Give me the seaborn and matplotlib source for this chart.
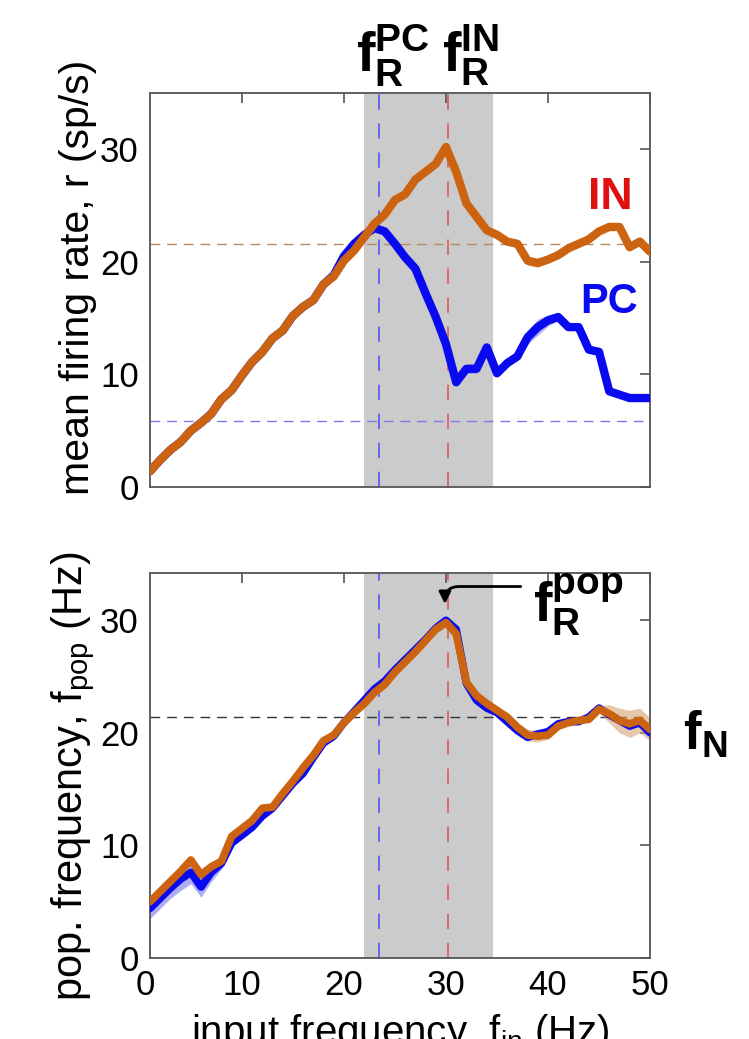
import seaborn as sns
import matplotlib.pyplot as plt
import matplotlib.transforms as mtransforms
import pandas as pd

# input frequencies (Hz)
freq = list(range(1, 51))

# mean firing rate (sp/s)
in_rate = [1.4, 2.4, 3.3, 4.0, 5.0, 5.7, 6.5, 7.8, 8.6, 9.9,
           11.1, 12.0, 13.2, 13.9, 15.2, 16.0, 16.6, 18.0, 18.7, 20.1,
           21.0, 22.2, 23.4, 24.2, 25.5, 26.0, 27.3, 28.0, 28.7, 30.2,
           28.0, 25.2, 24.0, 22.8, 22.4, 21.8, 21.6, 20.1, 19.9, 20.2,
           20.6, 21.2, 21.6, 22.0, 22.7, 23.1, 23.1, 21.3, 21.8, 20.9]
pc_rate = [1.4, 2.4, 3.3, 4.0, 5.0, 5.7, 6.5, 7.8, 8.6, 9.9,
           11.1, 12.0, 13.2, 13.9, 15.2, 16.0, 16.6, 18.0, 18.8, 20.5,
           21.6, 22.4, 23.0, 22.7, 21.6, 20.4, 19.4, 17.2, 15.1, 12.7,
           9.3, 10.5, 10.5, 12.4, 10.1, 11.0, 11.6, 13.3, 14.2, 14.8,
           15.1, 14.2, 14.2, 12.2, 12.0, 8.5, 8.2, 7.9, 7.9, 7.9]
in_rate_sd = [0.2] * 36 + [0.3, 0.4, 0.4, 0.3] + [0.2] * 10
pc_rate_sd = [0.2] * 30 + [0.3, 0.4, 0.4, 0.3, 0.2, 0.3, 0.4, 0.6, 0.7, 0.5,
                          0.3, 0.2, 0.2, 0.2, 0.3, 0.3, 0.3, 0.3, 0.3, 0.3]

# population frequency (Hz)
in_pop = [5.0, 5.9, 6.8, 7.7, 8.7, 7.4, 8.1, 8.6, 10.8, 11.5,
          12.2, 13.3, 13.4, 14.6, 15.7, 16.9, 18.0, 19.3, 19.8, 20.9,
          21.8, 22.6, 23.6, 24.3, 25.4, 26.3, 27.2, 28.2, 29.2, 29.8,
          28.8, 24.5, 23.3, 22.6, 22.0, 21.4, 20.5, 19.8, 19.7, 19.8,
          20.6, 20.9, 21.1, 21.2, 22.1, 21.7, 21.1, 20.8, 21.1, 20.3]
pc_pop = [4.4, 5.3, 6.2, 7.0, 7.6, 6.3, 7.6, 8.4, 10.2, 10.9,
          11.6, 12.6, 13.3, 14.4, 15.5, 16.4, 17.8, 19.1, 19.7, 20.9,
          21.9, 22.9, 23.9, 24.6, 25.6, 26.5, 27.4, 28.3, 29.3, 30.0,
          29.2, 24.4, 22.9, 22.2, 21.8, 21.0, 20.2, 19.6, 19.9, 20.1,
          20.8, 21.0, 21.0, 21.4, 22.2, 21.6, 21.1, 20.6, 20.9, 20.0]
in_pop_sd = [0.4] * 37 + [0.5, 0.5, 0.4] + [0.3] * 5 + [0.8, 1.1, 1.2, 1.1, 1.0]
pc_pop_sd = [0.9, 0.9, 0.9, 1.0, 1.0, 0.9, 0.8, 0.5] + [0.3] * 42

# resonance / natural frequencies
f_res_pc = 23.4
f_res_in = 30.2
band_lo, band_hi = 22.0, 34.6
rate_ref_in = 21.6
rate_ref_pc = 5.9
f_nat = 21.4

col_in = "#cc6310"
col_pc = "#0a0af0"

sns.set_theme(style="white")
plt.rcParams['font.family'] = ['Liberation Sans', 'DejaVu Sans']
plt.rcParams['mathtext.fontset'] = 'custom'
plt.rcParams['mathtext.rm'] = 'Liberation Sans'
plt.rcParams['mathtext.bf'] = 'Liberation Sans:bold'
plt.rcParams['mathtext.it'] = 'Liberation Sans:italic'
plt.rcParams['text.color'] = 'black'
plt.rcParams['axes.labelcolor'] = 'black'
plt.rcParams['xtick.labelcolor'] = 'black'
plt.rcParams['ytick.labelcolor'] = 'black'

df = pd.DataFrame({"freq": freq, "in_rate": in_rate, "pc_rate": pc_rate,
                   "in_pop": in_pop, "pc_pop": pc_pop})

fig = plt.figure(figsize=(7.49, 10.39), dpi=100)
ax1 = fig.add_axes([0.2003, 0.5313, 0.6676, 0.3792])
ax2 = fig.add_axes([0.2003, 0.078, 0.6676, 0.3705])

TICK = 25


def style(ax, ylim):
    ax.set_xlim(1, 50)
    ax.set_ylim(*ylim)
    ax.set_xticks([10, 20, 30, 40, 50])
    ax.set_yticks([0, 10, 20, 30])
    for s in ax.spines.values():
        s.set_color("#555555")
        s.set_linewidth(1.3)
        s.set_visible(True)
    ax.tick_params(direction="in", length=7, width=1.2, color="#555555",
                   top=True, right=True, labelsize=TICK, pad=8)
    ax.axvspan(band_lo, band_hi, color="#cbcbcb", zorder=0, lw=0)
    ax.axvline(f_res_pc, color="#4a4aff", lw=1.1, ls=(0, (10, 9)), zorder=1)
    ax.axvline(f_res_in, color="#e05050", lw=1.1, ls=(0, (10, 9)), zorder=1)


# ---- top panel: mean firing rate
style(ax1, (0, 35))
ax1.set_xticklabels([])
ax1.axhline(rate_ref_in, color="#b88a60", lw=1.0, ls=(0, (7, 5)), zorder=1)
ax1.axhline(rate_ref_pc, color="#7a7ae8", lw=1.0, ls=(0, (7, 5)), zorder=1)
ax1.fill_between(freq, [a - b for a, b in zip(pc_rate, pc_rate_sd)],
                 [a + b for a, b in zip(pc_rate, pc_rate_sd)],
                 color="#7777ee", alpha=0.6, lw=0, zorder=2)
ax1.fill_between(freq, [a - b for a, b in zip(in_rate, in_rate_sd)],
                 [a + b for a, b in zip(in_rate, in_rate_sd)],
                 color="#d9a070", alpha=0.6, lw=0, zorder=2)
sns.lineplot(data=df, x="freq", y="pc_rate", ax=ax1, color=col_pc, lw=6, zorder=3)
sns.lineplot(data=df, x="freq", y="in_rate", ax=ax1, color=col_in, lw=6, zorder=4)
ax1.set_xlabel("")
ax1.set_ylabel("mean firing rate, r (sp/s)", fontsize=29.5)
ax1.yaxis.set_label_coords(-0.106, 0.533)
ax1.text(46.1, 25.7, "IN", color="#e01010", fontsize=32, fontweight="bold",
         ha="center", va="center")
ax1.text(46.0, 16.4, "PC", color=col_pc, fontsize=30, fontweight="bold",
         ha="center", va="center")
ax1.text(24.8, 38.3, r"$\mathbf{f}_{\mathbf{R}}^{\mathbf{PC}}$", fontsize=40,
         ha="center", va="center")
ax1.text(32.4, 38.3, r"$\mathbf{f}_{\mathbf{R}}^{\mathbf{IN}}$", fontsize=40,
         ha="center", va="center")

# ---- bottom panel: population frequency
style(ax2, (0, 34.2))
ax2.axhline(f_nat, color="#333333", lw=1.0, ls=(0, (7, 5)), zorder=1)
ax2.fill_between(freq, [a - b for a, b in zip(pc_pop, pc_pop_sd)],
                 [a + b for a, b in zip(pc_pop, pc_pop_sd)],
                 color="#7777ee", alpha=0.6, lw=0, zorder=2)
ax2.fill_between(freq, [a - b for a, b in zip(in_pop, in_pop_sd)],
                 [a + b for a, b in zip(in_pop, in_pop_sd)],
                 color="#d9a070", alpha=0.6, lw=0, zorder=2)
sns.lineplot(data=df, x="freq", y="pc_pop", ax=ax2, color=col_pc, lw=5.5, zorder=3)
sns.lineplot(data=df, x="freq", y="in_pop", ax=ax2, color=col_in, lw=5.5, zorder=4)
ax2.set_xlabel(r"input frequency, f$_{\mathrm{in}}$ (Hz)", fontsize=29, labelpad=7)
ax2.set_ylabel(r"pop. frequency, f$_{\mathrm{pop}}$ (Hz)", fontsize=30)
ax2.yaxis.set_label_coords(-0.106, 0.473)
trans = mtransforms.offset_copy(ax2.get_xaxis_transform(), fig=fig, y=-8, units="points")
ax2.text(0.5, 0, "0", transform=trans, fontsize=TICK, ha="center", va="top")
ax2.annotate("", xy=(29.9, 31.2), xytext=(37.6, 33.0),
             arrowprops=dict(arrowstyle="-|>,head_length=0.6,head_width=0.3",
                             connectionstyle="angle,angleA=0,angleB=90,rad=14",
                             color="black", lw=2), zorder=5)
ax2.text(43.0, 31.4, r"$\mathbf{f}_{\mathbf{R}}^{\mathbf{pop}}$", fontsize=40,
         ha="center", va="center")
ax2.text(55.4, 19.8, r"$\mathbf{f}_{\mathbf{N}}$", fontsize=38,
         ha="center", va="center")

fig.savefig("out.png", dpi=100)
